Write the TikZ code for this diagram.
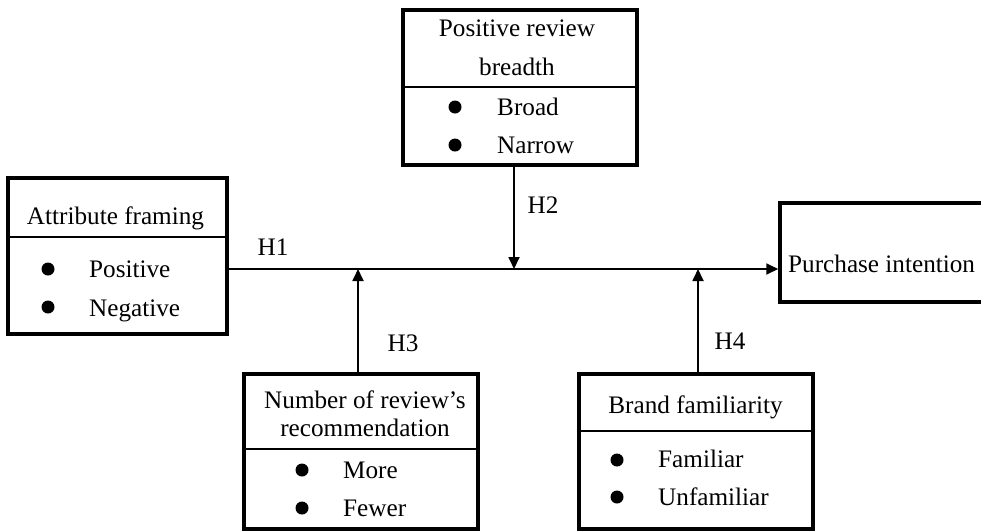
\documentclass[tikz,border=0pt]{standalone}
\usepackage{fontspec}
\setmainfont{Liberation Serif}
\usetikzlibrary{arrows.meta}
\begin{document}
\begin{tikzpicture}[x=1pt,y=-1pt,
  box/.style={draw, line width=3.5pt, rectangle, inner sep=0pt},
  lbl/.style={inner sep=0pt, font=\fontsize{25.2}{30}\selectfont},
  dot/.style={circle, fill, inner sep=0pt, minimum size=13pt},
  sepline/.style={line width=1.3pt},
  conn/.style={line width=1.8pt, -{Triangle[length=12pt,width=11pt]}}]
\useasboundingbox (0,0) rectangle (981,531);
\clip (0,0) rectangle (981,531);

% Attribute framing
\node[box, minimum width=219pt, minimum height=156pt] (A) at (117.5,256) {};
\draw[sepline] (A.west |- 0,237) -- (A.east |- 0,237);
\node[lbl, anchor=base] (At) at (115.5,224) {Attribute framing};
\node[dot] (Ad1) at (48,269) {};
\node[lbl, anchor=base west] (Ap) at (89,277) {Positive};
\node[dot] (Ad2) at (48,307) {};
\node[lbl, anchor=base west] (An) at (89,316) {Negative};

% Positive review breadth
\node[box, minimum width=234pt, minimum height=155pt] (B) at (520,87.5) {};
\draw[sepline] (B.west |- 0,87) -- (B.east |- 0,87);
\node[lbl, anchor=base] (Bt1) at (517,36) {Positive review};
\node[lbl, anchor=base] (Bt2) at (517,75) {breadth};
\node[dot] (Bd1) at (455,107) {};
\node[lbl, anchor=base west] (Bb) at (497,115) {Broad};
\node[dot] (Bd2) at (455,145) {};
\node[lbl, anchor=base west] (Bn) at (497,153) {Narrow};

% Purchase intention
\node[box, minimum width=220pt, minimum height=99pt] (P) at (890,252.5) {};
\node[lbl, anchor=base west] (Pt) at (788,272) {Purchase intention};

% Number of review's recommendation
\node[box, minimum width=234pt, minimum height=155pt] (N) at (361,451.5) {};
\draw[sepline] (N.west |- 0,449) -- (N.east |- 0,449);
\node[lbl, anchor=base] (Nt1) at (365,408) {Number of review’s};
\node[lbl, anchor=base] (Nt2) at (365,436) {recommendation};
\node[dot] (Nd1) at (302,470) {};
\node[lbl, anchor=base west] (Nm) at (343,478) {More};
\node[dot] (Nd2) at (302,508) {};
\node[lbl, anchor=base west] (Nf) at (343,516) {Fewer};

% Brand familiarity
\node[box, minimum width=234pt, minimum height=155pt] (F) at (696,451.5) {};
\draw[sepline] (F.west |- 0,431) -- (F.east |- 0,431);
\node[lbl, anchor=base] (Ft) at (695.5,413) {Brand familiarity};
\node[dot] (Fd1) at (617,460) {};
\node[lbl, anchor=base west] (Ff) at (658,467) {Familiar};
\node[dot] (Fd2) at (617,497) {};
\node[lbl, anchor=base west] (Fu) at (658,505) {Unfamiliar};

% junctions
\coordinate (j2) at (514,269);
\coordinate (j3) at (358,269);
\coordinate (j4) at (698,269);

% connectors
\draw[conn] (A.east |- 0,269) -- (P.west |- 0,269);
\draw[conn] (B.south -| j2) -- (j2);
\draw[conn] (N.north -| j3) -- (j3);
\draw[conn] (F.north -| j4) -- (j4);

% hypothesis labels
\node[lbl, anchor=base] (H1) at (273,255) {H1};
\node[lbl, anchor=base] (H2) at (543,213) {H2};
\node[lbl, anchor=base] (H3) at (403,351) {H3};
\node[lbl, anchor=base] (H4) at (730,349) {H4};
\end{tikzpicture}
\end{document}
